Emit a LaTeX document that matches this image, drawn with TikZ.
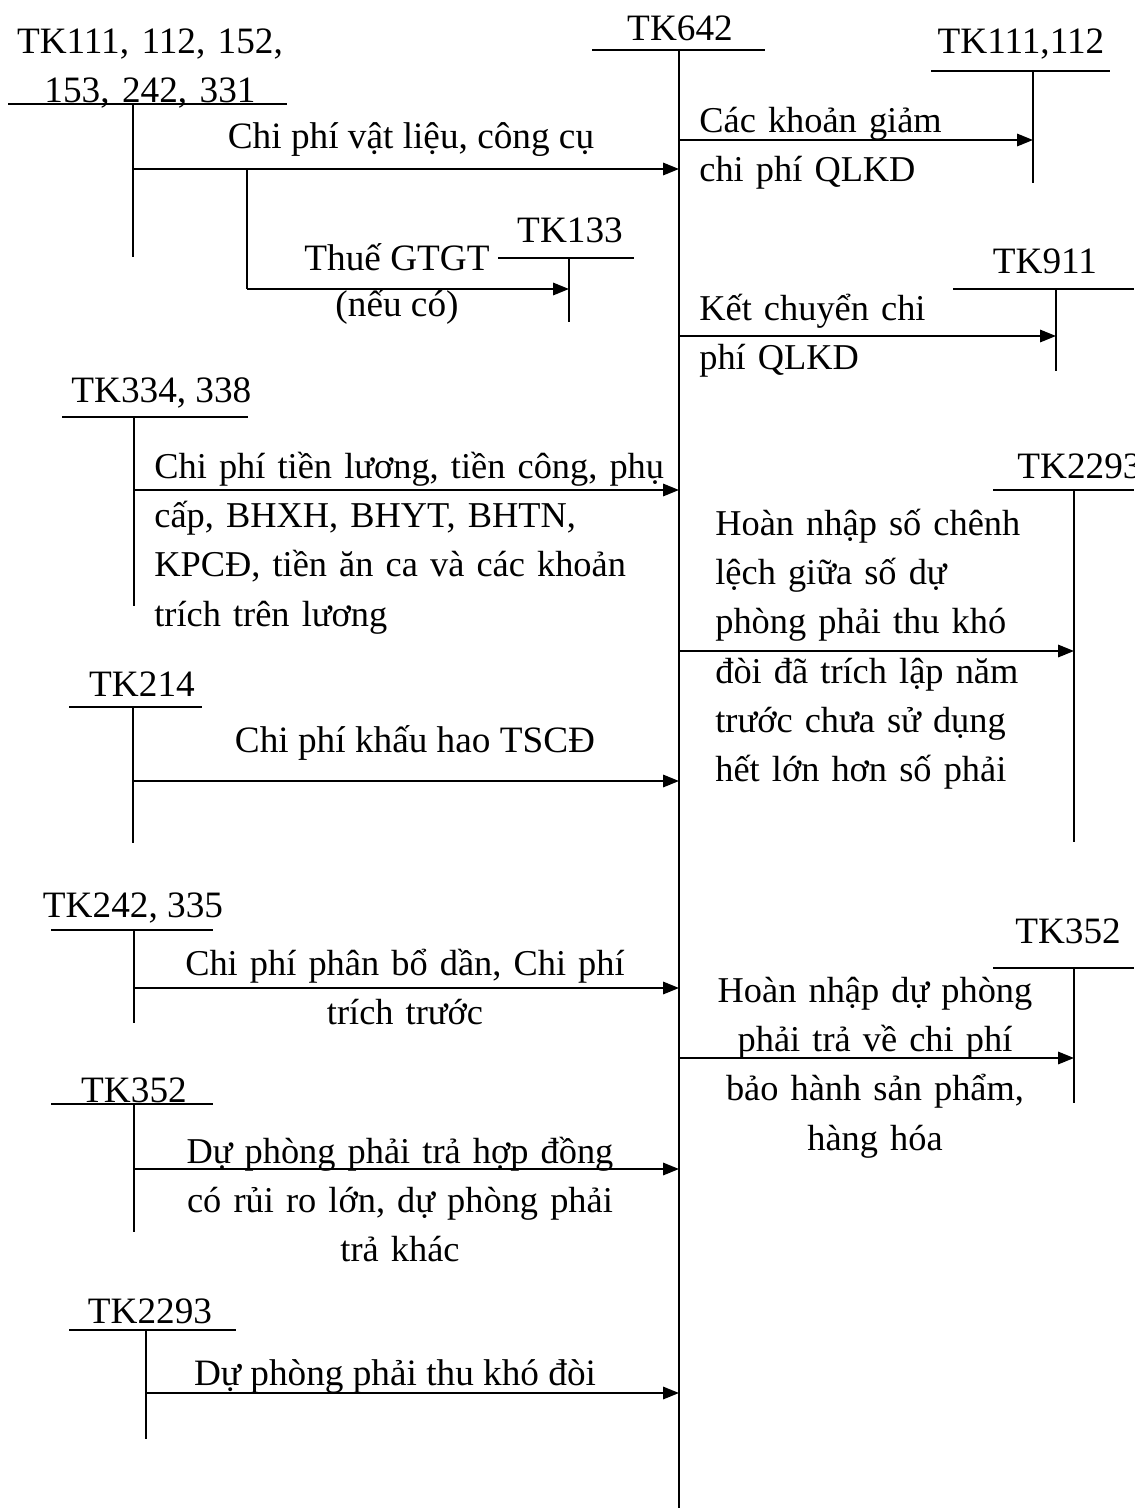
\documentclass[tikz,border=0pt]{standalone}
\usepackage{fontspec}
\setmainfont{Liberation Serif}
\usetikzlibrary{arrows.meta}
\newcommand{\acctfont}{\fontsize{21.2}{28.1}\selectfont}
\newcommand{\notefont}{\fontsize{20.7}{28.1}\selectfont}

\begin{document}
\begin{tikzpicture}[x=0.02cm, y=-0.02cm,
    acct/.style={font=\acctfont, inner sep=0pt, anchor=base},
    memo/.style={font=\notefont, inner sep=0pt, anchor=base west,
                 text width=#1},
    memoc/.style={font=\notefont, inner sep=0pt, anchor=base,
                  text width=#1, execute at begin node=\centering},
    tline/.style={line width=1.1pt},
    post/.style={tline, -{Triangle[length=9pt, width=7pt]}},
  ]
  \useasboundingbox (0,0) rectangle (1134,1508);

  % ─── TK642 (central account) ───
  \node[acct] (tk642) at (680,40) {TK642};
  \draw[tline] (592,50) -- (765,50);
  \draw[tline] (679,50) coordinate (s642) -- (679,1508);

  % ─── TK133 ───
  \node[acct] (tk133) at (570,242) {TK133};
  \draw[tline] (498,258) -- (634,258);
  \draw[tline] (569,258) coordinate (s133) -- (569,322);

  % ─── TK111, 112, 152, 153, 242, 331 ───
  \node[memoc=7cm, font=\acctfont] (tk111) at (150,53) {TK111, 112, 152,\\153, 242, 331};
  \draw[tline] (8,104) -- (287,104);
  \draw[tline] (133,104) coordinate (s111) -- (133,257);
  \coordinate (p1) at (133,169);
  \draw[post] (p1) -- (p1 -| s642);
  \node[acct] (n1) at (411,148) {Chi phí vật liệu, công cụ};
  \coordinate (p1b) at (247,169);
  \coordinate (p1c) at (247,289);
  \draw[tline] (p1b) -- (p1c);
  \draw[post] (p1c) -- (p1c -| s133);
  \node[acct] (n1b) at (397,270) {Thuế GTGT};
  \node[acct] (n1c) at (397,316) {(nếu có)};

  % ─── TK334, 338 ───
  \node[acct, anchor=base west] (tk334) at (71,402) {TK334, 338};
  \draw[tline] (62,417) -- (248,417);
  \draw[tline] (134,417) coordinate (s334) -- (134,606);
  \coordinate (p2) at (134,490);
  \draw[post] (p2) -- (p2 -| s642);
  \node[memo=11.5cm] (n2) at (154,478)
    {Chi phí tiền lương, tiền công, phụ\\cấp, BHXH, BHYT, BHTN,\\KPCĐ, tiền ăn ca và các khoản\\trích trên lương};

  % ─── TK214 ───
  \node[acct] (tk214) at (142,696) {TK214};
  \draw[tline] (69,707) -- (202,707);
  \draw[tline] (133,707) coordinate (s214) -- (133,843);
  \coordinate (p3) at (133,781);
  \draw[post] (p3) -- (p3 -| s642);
  \node[acct] (n3) at (415,752) {Chi phí khấu hao TSCĐ};

  % ─── TK242, 335 ───
  \node[acct] (tk242) at (133,917) {TK242, 335};
  \draw[tline] (51,930) -- (213,930);
  \draw[tline] (134,930) coordinate (s242) -- (134,1023);
  \coordinate (p4) at (134,988);
  \draw[post] (p4) -- (p4 -| s642);
  \node[memoc=10cm] (n4) at (405,975) {Chi phí phân bổ dần, Chi phí\\trích trước};

  % ─── TK352 (left) ───
  \node[acct] (tk352) at (134,1102) {TK352};
  \draw[tline] (51,1104) -- (213,1104);
  \draw[tline] (134,1104) coordinate (s352) -- (134,1232);
  \coordinate (p5) at (134,1169);
  \draw[post] (p5) -- (p5 -| s642);
  \node[memoc=10cm] (n5) at (400,1163)
    {Dự phòng phải trả hợp đồng\\có rủi ro lớn, dự phòng phải\\trả khác};

  % ─── TK2293 (left) ───
  \node[acct] (tk2293) at (150,1323) {TK2293};
  \draw[tline] (69,1330) -- (236,1330);
  \draw[tline] (146,1330) coordinate (s2293) -- (146,1439);
  \coordinate (p6) at (146,1393);
  \draw[post] (p6) -- (p6 -| s642);
  \node[acct] (n6) at (395,1385) {Dự phòng phải thu khó đòi};

  % ─── TK111,112 (right) ───
  \node[acct] (rk111) at (1021,53) {TK111,112};
  \draw[tline] (931,71) -- (1110,71);
  \draw[tline] (1033,71) coordinate (r111) -- (1033,183);
  \coordinate (q1) at (679,140);
  \draw[post] (q1) -- (q1 -| r111);
  \node[memo=8cm] (m1) at (699,132) {Các khoản giảm\\chi phí QLKD};

  % ─── TK911 ───
  \node[acct] (rk911) at (1045,273) {TK911};
  \draw[tline] (953,289) -- (1134,289);
  \draw[tline] (1056,289) coordinate (r911) -- (1056,371);
  \coordinate (q2) at (679,336);
  \draw[post] (q2) -- (q2 -| r911);
  \node[memo=8cm] (m2) at (699,320) {Kết chuyển chi\\phí QLKD};

  % ─── TK2293 (right) ───
  \node[acct, anchor=base west] (rk2293) at (1017,478) {TK2293};
  \draw[tline] (993,490) -- (1134,490);
  \draw[tline] (1074,490) coordinate (r2293) -- (1074,842);
  \coordinate (q3) at (679,651);
  \draw[post] (q3) -- (q3 -| r2293);
  \node[memo=8cm] (m3) at (715,535)
    {Hoàn nhập số chênh\\lệch giữa số dự\\phòng phải thu khó\\đòi đã trích lập năm\\trước chưa sử dụng\\hết lớn hơn số phải};

  % ─── TK352 (right) ───
  \node[acct] (rk352) at (1068,943) {TK352};
  \draw[tline] (993,968) -- (1134,968);
  \draw[tline] (1074,968) coordinate (r352) -- (1074,1103);
  \coordinate (q4) at (679,1058);
  \draw[post] (q4) -- (q4 -| r352);
  \node[memoc=8cm] (m4) at (875,1002)
    {Hoàn nhập dự phòng\\phải trả về chi phí\\bảo hành sản phẩm,\\hàng hóa};
\end{tikzpicture}
\end{document}
